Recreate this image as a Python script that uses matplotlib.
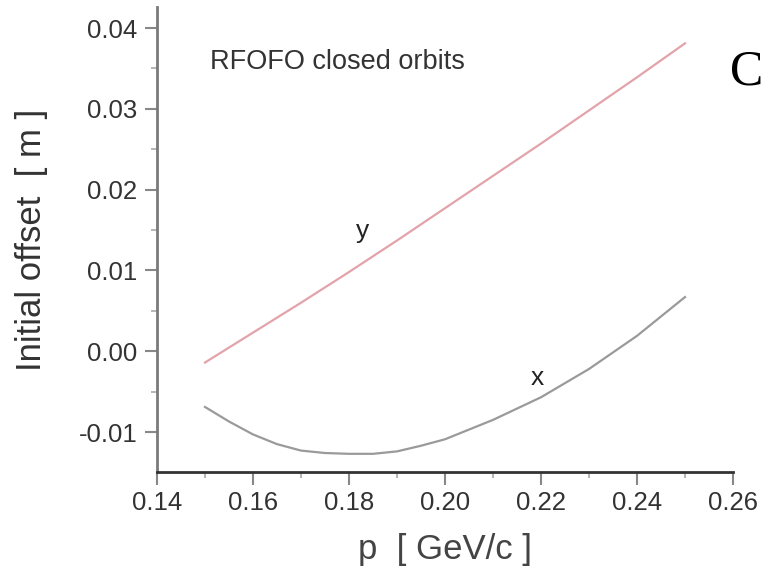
import matplotlib
matplotlib.use("Agg")
import matplotlib.pyplot as plt
from matplotlib.ticker import MultipleLocator

plt.rcParams['font.family'] = ['Liberation Sans', 'DejaVu Sans']

p_y = [0.15, 0.16, 0.17, 0.18, 0.19, 0.20, 0.21, 0.22, 0.23, 0.24, 0.25]
y_offset = [-0.0014, 0.0023, 0.0060, 0.0098, 0.0137, 0.0177, 0.0217, 0.0257, 0.0298, 0.0339, 0.0381]

p_x = [0.15, 0.155, 0.16, 0.165, 0.17, 0.175, 0.18, 0.185, 0.19, 0.195, 0.20, 0.21, 0.22, 0.23, 0.24, 0.25]
x_offset = [-0.0069, -0.0087, -0.0103, -0.0115, -0.0123, -0.0126, -0.0127, -0.0127, -0.0124, -0.0117,
            -0.0109, -0.0085, -0.0057, -0.0022, 0.0019, 0.0067]

xticks = [0.14, 0.16, 0.18, 0.20, 0.22, 0.24, 0.26]
xticklabels = ["0.14", "0.16", "0.18", "0.20", "0.22", "0.24", "0.26"]
yticks = [-0.01, 0.00, 0.01, 0.02, 0.03, 0.04]
yticklabels = ["-0.01", "0.00", "0.01", "0.02", "0.03", "0.04"]

fig = plt.figure(figsize=(7.64, 5.72), dpi=100)
ax = fig.add_axes([157/764, 1-472/572, (733-157)/764, (472-7)/572])

ax.plot(p_y, y_offset, color='#e3a3aa', lw=1.6)
ax.plot(p_x, x_offset, color='#9a9a9a', lw=1.6)

ax.set_xlim(0.14, 0.26)
ax.set_ylim(-0.01495, 0.0426)
ax.set_xticks(xticks)
ax.set_xticklabels(xticklabels)
ax.set_yticks(yticks)
ax.set_yticklabels(yticklabels)
ax.xaxis.set_minor_locator(MultipleLocator(0.01))
ax.yaxis.set_minor_locator(MultipleLocator(0.005))

for s in ['top', 'right']:
    ax.spines[s].set_visible(False)
ax.spines['left'].set_color('#7a7a7a')
ax.spines['left'].set_linewidth(2)
ax.spines['bottom'].set_color('#333333')
ax.spines['bottom'].set_linewidth(2)

ax.tick_params(axis='both', which='major', direction='out', length=9, width=1.5,
               color='#888888', labelsize=18.5, labelcolor='#333333', pad=5)
ax.tick_params(axis='both', which='minor', direction='out', length=4, width=1.2, color='#aaaaaa')

ax.set_xlabel("p  [ GeV/c ]", fontsize=25, color='#444444', labelpad=13)
ax.set_ylabel("Initial offset  [ m ]", fontsize=25, color='#333333', labelpad=22)

ax.text(0.151, 0.0358, "RFOFO closed orbits", fontsize=19.5, color='#333333', va='center', ha='left')
ax.text(0.1829, 0.0149, "y", fontsize=19, color='#222222', va='center', ha='center')
ax.text(0.2192, -0.0033, "x", fontsize=19, color='#222222', va='center', ha='center')

fig.text(763/764, 1-72/572, "C", fontsize=36, family=['Liberation Serif', 'DejaVu Serif'],
         color='black', va='center', ha='right')

fig.savefig("out.png", dpi=100)
